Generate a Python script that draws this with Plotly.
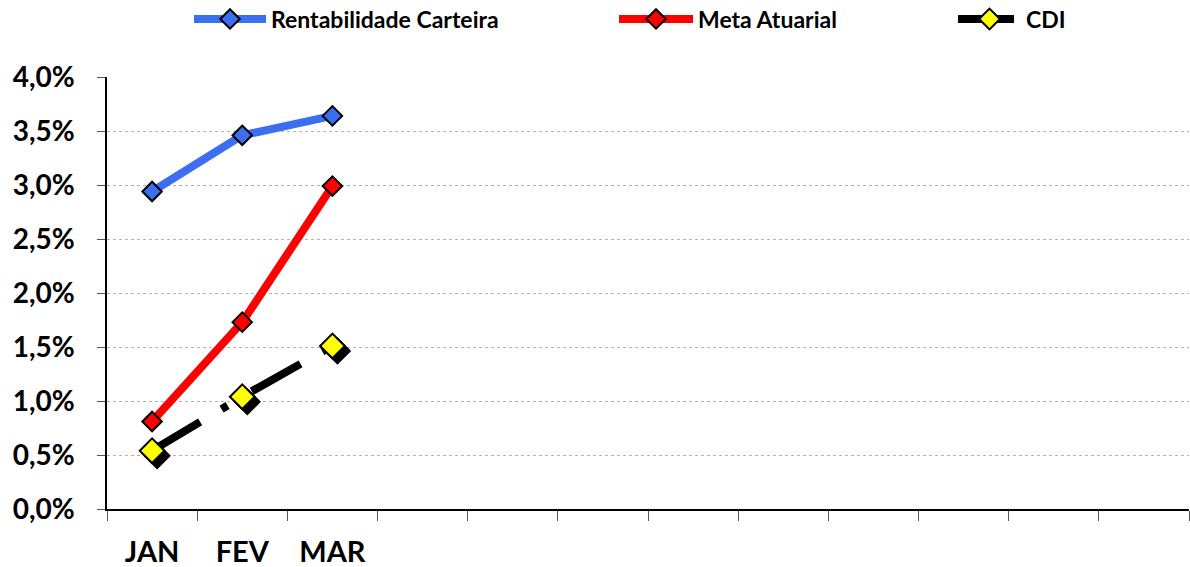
import plotly.graph_objects as go

months = ["JAN", "FEV", "MAR", "ABR", "MAI", "JUN", "JUL", "AGO", "SET", "OUT", "NOV", "DEZ"]
tick_labels = ["JAN", "FEV", "MAR", "", "", "", "", "", "", "", "", ""]
rentabilidade = [0.0294, 0.0346, 0.0364]
meta = [0.0081, 0.0173, 0.0299]
cdi = [0.0054, 0.0104, 0.0151]

FONT = "Lato"
W, H = 1190, 567
ml, mr, mt, mb = 107, 1, 77, 58
pw = W - ml - mr
ph = H - mt - mb
yr = [0, 0.04]
xr = [-0.5, 11.5]
dx = 5 * (xr[1] - xr[0]) / pw
dy = 5 * (yr[1] - yr[0]) / ph

fig = go.Figure()
fig.add_trace(go.Scatter(
    x=months[:3], y=rentabilidade, name="Rentabilidade Carteira", mode="lines+markers",
    line=dict(color="#3C6EF0", width=8),
    marker=dict(symbol="diamond", size=15, color="#3C6EF0", line=dict(color="black", width=2)),
    legend="legend"))
fig.add_trace(go.Scatter(
    x=months[:3], y=meta, name="Meta Atuarial", mode="lines+markers",
    line=dict(color="#FF0000", width=8),
    marker=dict(symbol="diamond", size=15, color="#FF0000", line=dict(color="black", width=2)),
    legend="legend2"))
# shadow for CDI markers
fig.add_trace(go.Scatter(
    x=months[:3], y=cdi, mode="markers", showlegend=False, hoverinfo="skip",
    marker=dict(symbol="diamond", size=19, color="black", line=dict(color="black", width=2)),
    xaxis="x2", yaxis="y2"))
fig.add_trace(go.Scatter(
    x=months[:3], y=cdi, name="CDI", mode="lines+markers",
    line=dict(color="black", width=8, dash="56px,25px,7px,28px"),
    marker=dict(symbol="diamond", size=19, color="#FFFF00", line=dict(color="black", width=2)),
    xaxis="x3", yaxis="y3", legend="legend3"))

tickfont = dict(family=FONT, size=28, color="black", weight="bold")
legfont = dict(family=FONT, size=23, color="black", weight="bold")
ly = (ph + 58) / ph
fig.update_layout(
    width=W, height=H,
    margin=dict(l=ml, r=mr, t=mt, b=mb, autoexpand=False),
    paper_bgcolor="white", plot_bgcolor="white",
    separators=",.",
    xaxis=dict(type="category", categoryorder="array", categoryarray=months,
               tickvals=months, ticktext=tick_labels, range=xr,
               showgrid=False, showline=True, linecolor="black", linewidth=1.5,
               ticks="outside", tickson="boundaries", ticklen=10, tickcolor="#555",
               tickfont=dict(family=FONT, size=29, color="black", weight="bold"),
               ticklabelstandoff=16, zeroline=False, automargin=False),
    yaxis=dict(range=yr, tickvals=[i * 0.005 for i in range(9)], tickformat=".1%",
               showgrid=True, gridcolor="#b4b4b4", griddash="dot", gridwidth=1,
               showline=True, linecolor="black", linewidth=1.5,
               ticks="outside", ticklen=8, tickcolor="#555",
               tickfont=tickfont, ticklabelstandoff=17, zeroline=False, automargin=False),
    xaxis2=dict(type="category", categoryorder="array", categoryarray=months,
                range=[xr[0] - dx, xr[1] - dx], overlaying="x", visible=False),
    yaxis2=dict(range=[yr[0] + dy, yr[1] + dy], overlaying="y", visible=False),
    xaxis3=dict(type="category", categoryorder="array", categoryarray=months,
                range=xr, overlaying="x", visible=False),
    yaxis3=dict(range=yr, overlaying="y", visible=False),
    legend=dict(x=(189 - ml) / pw, y=ly, xanchor="left", yanchor="middle",
                orientation="h", itemwidth=72, bgcolor="rgba(0,0,0,0)", font=legfont),
    legend2=dict(x=(614 - ml) / pw, y=ly, xanchor="left", yanchor="middle",
                 orientation="h", itemwidth=74, bgcolor="rgba(0,0,0,0)", font=legfont),
    legend3=dict(x=(953 - ml) / pw, y=ly, xanchor="left", yanchor="middle",
                 orientation="h", itemwidth=63, bgcolor="rgba(0,0,0,0)", font=legfont),
)
fig.write_html("out.html", config={"displayModeBar": False},
               post_script="document.body.style.margin='0';")
